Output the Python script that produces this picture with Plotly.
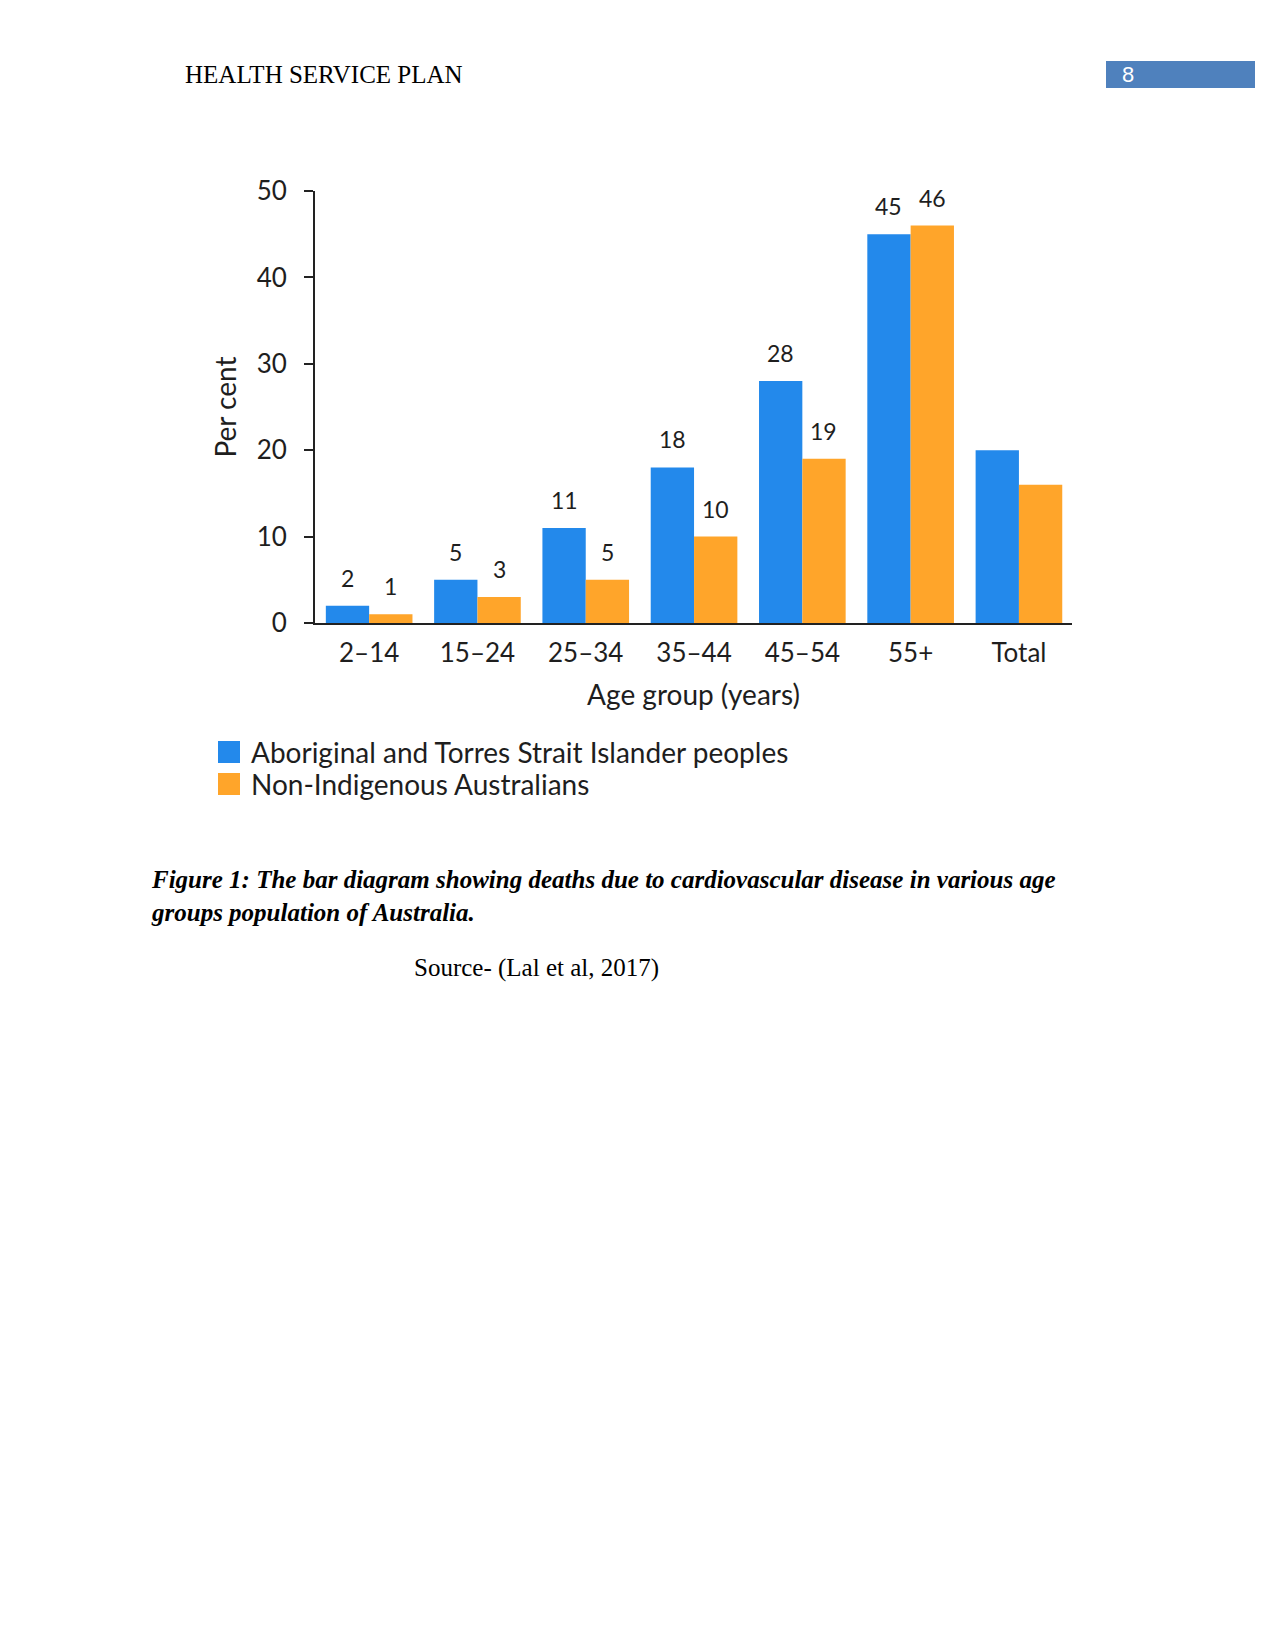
import plotly.graph_objects as go

# ---- data ----
categories = ["2–14", "15–24", "25–34", "35–44", "45–54", "55+", "Total"]
aboriginal = [2, 5, 11, 18, 28, 45, 20]
non_indigenous = [1, 3, 5, 10, 19, 46, 16]
aboriginal_labels = ["2", "5", "11", "18", "28", "45", ""]
non_indigenous_labels = ["1", "3", "5", "10", "19", "46", ""]
series_names = ["Aboriginal and Torres Strait Islander peoples", "Non-Indigenous Australians"]
y_ticks = [0, 10, 20, 30, 40, 50]

BLUE = "#2389EB"
ORANGE = "#FFA52A"
TXT = "#1e1e1e"
SANS = "Lato"
SERIF = "Liberation Serif"

FW, FH = 1275, 1650
L, R, T, B = 315, 203, 191, 1027
PW = FW - L - R
PH = FH - T - B
BOTTOM = FH - B


def px(x):
    return (x - L) / PW


def py(y):
    return (BOTTOM - y) / PH


fig = go.Figure()
fig.add_trace(go.Bar(x=categories, y=aboriginal, name=series_names[0],
                     marker=dict(color=BLUE, line=dict(width=0))))
fig.add_trace(go.Bar(x=categories, y=non_indigenous, name=series_names[1],
                     marker=dict(color=ORANGE, line=dict(width=0))))

annotations = []
# data labels
half = 0.2 * PW / 6.99  # offset of each bar centre from category centre in px
for cat, v, lab in zip(categories, aboriginal, aboriginal_labels):
    if lab:
        annotations.append(dict(x=cat, y=v, xref="x", yref="y", text=lab, showarrow=False,
                                xshift=-half, yshift=28, yanchor="middle",
                                font=dict(family=SANS, size=23, color=TXT)))
for cat, v, lab in zip(categories, non_indigenous, non_indigenous_labels):
    if lab:
        annotations.append(dict(x=cat, y=v, xref="x", yref="y", text=lab, showarrow=False,
                                xshift=half, yshift=28, yanchor="middle",
                                font=dict(family=SANS, size=23, color=TXT)))

shapes = []
# legend (manual, large square swatches)
for i, (name, col) in enumerate(zip(series_names, [BLUE, ORANGE])):
    cy = 752 + i * 32
    shapes.append(dict(type="rect", xref="paper", yref="paper",
                       x0=px(218), x1=px(240), y0=py(cy - 11), y1=py(cy + 11),
                       fillcolor=col, line=dict(width=0)))
    annotations.append(dict(x=px(249), y=py(cy), xref="paper", yref="paper", text=name,
                            showarrow=False, xanchor="left", yanchor="middle",
                            font=dict(family=SANS, size=28, color=TXT)))

# header
annotations.append(dict(x=px(183), y=py(75), xref="paper", yref="paper",
                        text="HEALTH SERVICE PLAN", showarrow=False,
                        xanchor="left", yanchor="middle",
                        font=dict(family=SERIF, size=25, color="#000000")))
shapes.append(dict(type="rect", xref="paper", yref="paper",
                   x0=px(1106), x1=px(1255), y0=py(88), y1=py(61),
                   fillcolor="#4F81BD", line=dict(width=0)))
annotations.append(dict(x=px(1120), y=py(75), xref="paper", yref="paper",
                        text="8", showarrow=False, xanchor="left", yanchor="middle",
                        font=dict(family="Liberation Sans", size=22, color="#ffffff")))

# caption
annotations.append(dict(x=px(149), y=py(880), xref="paper", yref="paper",
                        text="<b><i>Figure 1: The bar diagram showing deaths due to cardiovascular disease in various age<br>groups population of Australia.</i></b>",
                        showarrow=False, xanchor="left", yanchor="middle", align="left",
                        yshift=-16,
                        font=dict(family=SERIF, size=25, color="#000000")))
annotations.append(dict(x=px(412), y=py(968), xref="paper", yref="paper",
                        text="Source- (Lal et al, 2017)", showarrow=False,
                        xanchor="left", yanchor="middle",
                        font=dict(family=SERIF, size=25, color="#000000")))

fig.update_layout(
    width=FW, height=FH,
    margin=dict(l=L, r=R, t=T, b=B, pad=0),
    paper_bgcolor="white", plot_bgcolor="white",
    barmode="group", bargap=0.2, bargroupgap=0,
    showlegend=False,
    annotations=annotations, shapes=shapes,
    font=dict(family=SANS, color=TXT),
)
fig.update_xaxes(
    type="category", range=[-0.5, 6.49],
    showline=True, linecolor="#222222", linewidth=2,
    ticks="", showgrid=False, zeroline=False,
    tickfont=dict(family=SANS, size=26, color=TXT),
    ticklabelstandoff=6,
    title=dict(text="Age group (years)", font=dict(family=SANS, size=28, color=TXT), standoff=18),
)
fig.update_yaxes(
    range=[0, 50], tickvals=y_ticks,
    showline=True, linecolor="#222222", linewidth=2,
    ticks="outside", ticklen=9, tickwidth=2, tickcolor="#222222",
    showgrid=False, zeroline=False,
    tickfont=dict(family=SANS, size=26, color=TXT),
    ticklabelstandoff=12,
    title=dict(text="Per cent", font=dict(family=SANS, size=28, color=TXT), standoff=12),
)

fig.write_html("out.html", config={"displayModeBar": False},
               post_script="document.body.style.margin='0';")
